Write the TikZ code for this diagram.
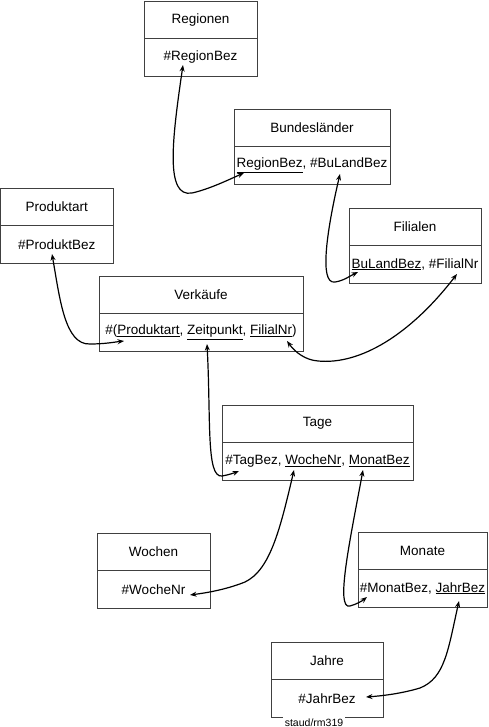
\documentclass[tikz,border=0pt]{standalone}
\usepackage{fontspec}
\setmainfont{Liberation Sans}
\usetikzlibrary{arrows.meta, positioning}

\begin{document}
\begin{tikzpicture}[
    x=1pt, y=-1pt,
    every node/.style={font=\fontsize{13.5}{16}\selectfont},
    >={Stealth[length=6.5pt, width=5pt]},
    feld/.style={draw=black!75, line width=0.8pt, minimum width=#1,
        minimum height=37.5pt, inner xsep=1pt, outer sep=0pt},
    verweis/.style={<->, line width=1.2pt, black},
]

\useasboundingbox (0,0) rectangle (488,727);

% === Relationen (Kopf + Schluessel) ===
\node[feld=113, anchor=north west] (regionen) at (144,1) {Regionen};
\node[feld=113, below=0pt of regionen] (regionen-s) {\#RegionBez};

\node[feld=156, anchor=north west] (laender) at (234,109) {Bundesländer};
\node[feld=156, below=0pt of laender] (laender-s)
    {\underline{RegionBez}, \#BuLandBez};

\node[feld=132, anchor=north west] (filialen) at (349,208) {Filialen};
\node[feld=132, below=0pt of filialen] (filialen-s)
    {\underline{BuLandBez}, \#FilialNr};

\node[feld=112.5, anchor=north west] (produktart) at (0.5,188) {Produktart};
\node[feld=112.5, below=0pt of produktart] (produktart-s) {\#ProduktBez};

\node[feld=204, anchor=north west] (verkaeufe) at (99,276) {Verkäufe};
\node[feld=204, below=0pt of verkaeufe] (verkaeufe-s)
    {\#(\underline{Produktart}, \underline{Zeitpunkt}, \underline{FilialNr})};

\node[feld=191, anchor=north west] (tage) at (222,405) {Tage};
\node[feld=191, below=0pt of tage] (tage-s)
    {\#TagBez, \underline{WocheNr}, \underline{MonatBez}};

\node[feld=113, anchor=north west] (wochen) at (97,533) {Wochen};
\node[feld=113, below=0pt of wochen] (wochen-s) {\#WocheNr};

\node[feld=129, anchor=north west] (monate) at (358,532) {Monate};
\node[feld=129, below=0pt of monate] (monate-s)
    {\#MonatBez, \underline{JahrBez}};

\node[feld=112, anchor=north west] (jahre) at (271,642) {Jahre};
\node[feld=112, below=0pt of jahre] (jahre-s) {\#JahrBez};

% === Signatur ===
\node[fill=white, inner xsep=2pt, inner ysep=3pt, anchor=base,
    font=\fontsize{10.5}{12}\selectfont] (signatur) at (314,726) {staud/rm319};

% === Endpunkte der Verweise ===
\coordinate (regionbez-pk) at (183,65);
\coordinate (regionbez-fk) at (244,173);
\coordinate (bulandbez-pk) at (340,174);
\coordinate (bulandbez-fk) at (358,272);
\coordinate (produktbez-pk) at (52,254);
\coordinate (produktart-fk) at (124,341);
\coordinate (filialnr-pk) at (457,274);
\coordinate (filialnr-fk) at (287,341);
\coordinate (zeitpunkt-fk) at (207,344);
\coordinate (tagbez-pk) at (239,471);
\coordinate (wochenr-fk) at (294,470);
\coordinate (wochenr-pk) at (190,595);
\coordinate (monatbez-fk) at (363,470);
\coordinate (monatbez-pk) at (367,597);
\coordinate (jahrbez-fk) at (459,601);
\coordinate (jahrbez-pk) at (366,697);

% === Verweise ===
\draw[verweis] (regionbez-pk) .. controls (172,140) and (165,198) .. (192,193)
    .. controls (210,189) and (230,179) .. (regionbez-fk);
\draw[verweis] (bulandbez-pk) .. controls (328,225) and (318,285) .. (335,282)
    .. controls (343,281) and (350,276) .. (bulandbez-fk);
\draw[verweis] (produktbez-pk) .. controls (60,300) and (65,345) .. (90,344)
    .. controls (105,344) and (115,342) .. (produktart-fk);
\draw[verweis] (filialnr-pk) .. controls (410,335) and (360,365) .. (318,361)
    .. controls (305,360) and (295,352) .. (filialnr-fk);
\draw[verweis] (zeitpunkt-fk) .. controls (211,420) and (206,478) .. (222,476)
    .. controls (228,475) and (234,473) .. (tagbez-pk);
\draw[verweis] (wochenr-fk) .. controls (280,530) and (270,570) .. (245,582)
    .. controls (225,590) and (205,593) .. (wochenr-pk);
\draw[verweis] (monatbez-fk) .. controls (350,540) and (335,610) .. (350,606)
    .. controls (357,604) and (362,601) .. (monatbez-pk);
\draw[verweis] (jahrbez-fk) .. controls (448,650) and (445,678) .. (420,688)
    .. controls (400,694) and (380,696) .. (jahrbez-pk);

\end{tikzpicture}
\end{document}
